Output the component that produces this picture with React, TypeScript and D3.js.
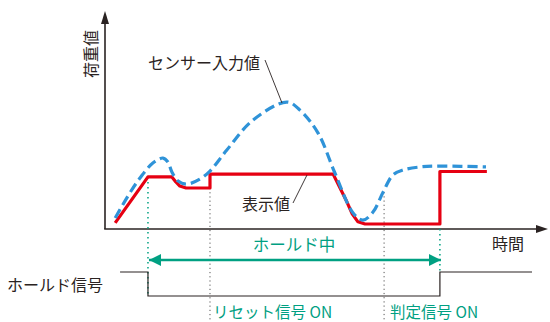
import React from "react";
import * as d3 from "d3";

// time (0..100) vs load value (0..100)
const sensorT = [2.3, 5.6, 7.9, 10.8, 13.1, 14.2, 15.1, 16.5, 18.5, 21.4, 23.7, 27.5, 33.4, 41.1, 44.0, 48.1, 51.9, 56.0, 58.2, 60.5, 62.8, 65.0, 67.3, 71.1, 75.6, 86.0];
const sensorV = [5.1, 16.6, 23.5, 30.4, 32.7, 30.9, 26.3, 22.1, 20.7, 23.0, 26.7, 36.4, 50.2, 58.5, 54.8, 44.2, 25.8, 7.4, 4.1, 7.8, 17.1, 24.9, 27.2, 28.6, 29.0, 28.6];

const displayT = [2.3, 9.7, 15.1, 16.0, 16.9, 18.3, 23.7, 23.7, 51.5, 54.4, 55.8, 57.1, 58.7, 75.6, 75.6, 86.2];
const displayV = [2.8, 24.0, 24.0, 21.7, 19.8, 18.9, 18.9, 25.3, 25.3, 13.4, 7.0, 3.3, 2.3, 2.3, 26.5, 26.5];

const holdT = [3.4, 9.7, 9.7, 75.6, 75.6, 96.4];
const holdV = [1, 1, 0, 0, 1, 1];

const holdStart = 9.7;
const resetT = 23.7;
const judgeT = 63.0;
const holdEnd = 75.6;

const labels = {
  yAxis: "荷重値",
  xAxis: "時間",
  sensor: "センサー入力値",
  display: "表示値",
  holding: "ホールド中",
  holdSignal: "ホールド信号",
  reset: "リセット信号 ON",
  judge: "判定信号 ON",
};

const W = 550;
const H = 322;
const FONT = "'Noto Sans CJK JP', 'Noto Sans', sans-serif";
const TEAL = "#00a082";
const BLUE = "#2f93d8";
const RED = "#e60012";
const DARK = "#2a2322";

export default function App() {
  const x = d3.scaleLinear().domain([0, 100]).range([105, 548]);
  const y = d3.scaleLinear().domain([0, 100]).range([229, 12]);
  const ys = d3.scaleLinear().domain([0, 1]).range([296, 272]);

  const sensorLine = d3
    .line<number>()
    .x((_, i) => x(sensorT[i]))
    .y((d) => y(d))
    .curve(d3.curveCatmullRom.alpha(0.5));
  const displayLine = d3
    .line<number>()
    .x((_, i) => x(displayT[i]))
    .y((d) => y(d));
  const holdLine = d3
    .line<number>()
    .x((_, i) => x(holdT[i]))
    .y((d) => ys(d));

  return (
    <svg width={W} height={H} style={{ position: "absolute", left: 0, top: 0, background: "#fff" }}>
      <defs>
        <marker id="ah" viewBox="0 0 10 10" refX="10" refY="5" markerWidth="12" markerHeight="12" markerUnits="userSpaceOnUse" orient="auto-start-reverse">
          <path d="M0,0 L10,5 L0,10 z" fill={TEAL} />
        </marker>
      </defs>
      {/* axes */}
      <line x1={x(0)} y1={y(0)} x2={x(0)} y2={22} stroke={DARK} strokeWidth={1.6} />
      <path d={`M${x(0) - 4},${24} L${x(0)},${11} L${x(0) + 4},${24} z`} fill={DARK} />
      <line x1={x(0) - 0.8} y1={y(0)} x2={536} y2={y(0)} stroke={DARK} strokeWidth={1.6} />
      <path d={`M${536},${y(0) - 4} L${548},${y(0)} L${536},${y(0) + 4} z`} fill={DARK} />

      {/* vertical markers */}
      <line x1={x(holdStart)} y1={y(24)} x2={x(holdStart)} y2={ys(0)} stroke={TEAL} strokeWidth={1.5} strokeDasharray="1.5 3.5" />
      <line x1={x(holdEnd)} y1={y(0)} x2={x(holdEnd)} y2={ys(1)} stroke={TEAL} strokeWidth={1.5} strokeDasharray="1.5 3.5" />
      <line x1={x(resetT)} y1={y(18.9)} x2={x(resetT)} y2={H} stroke="#555" strokeWidth={1} strokeDasharray="1.2 3" />
      <line x1={x(judgeT)} y1={y(17)} x2={x(judgeT)} y2={H} stroke="#555" strokeWidth={1} strokeDasharray="1.2 3" />

      {/* series */}
      <path d={displayLine(displayV) || ""} fill="none" stroke={RED} strokeWidth={3.2} strokeLinejoin="round" />
      <path d={sensorLine(sensorV) || ""} fill="none" stroke={BLUE} strokeWidth={3.2} strokeDasharray="10 5" />

      {/* hold signal */}
      <path d={holdLine(holdV) || ""} fill="none" stroke={DARK} strokeWidth={1.2} />

      {/* hold arrow */}
      <line x1={x(holdStart) + 1} y1={260} x2={x(holdEnd) + 1} y2={260} stroke={TEAL} strokeWidth={2.4} markerStart="url(#ah)" markerEnd="url(#ah)" />

      {/* leader lines */}
      <line x1={265} y1={60} x2={282} y2={103} stroke={DARK} strokeWidth={0.9} />
      <line x1={293} y1={203} x2={307} y2={175} stroke={DARK} strokeWidth={0.9} />

      {/* texts */}
      <g fontFamily={FONT} fontSize={16} fill={DARK}>
        <text x={90} y={54} textAnchor="middle" dominantBaseline="central" transform="rotate(-90 90 54)">{labels.yAxis}</text>
        <text x={148} y={62} dominantBaseline="central">{labels.sensor}</text>
        <text x={242} y={203} dominantBaseline="central">{labels.display}</text>
        <text x={508} y={243} textAnchor="middle" dominantBaseline="central">{labels.xAxis}</text>
        <text x={7} y={284} dominantBaseline="central">{labels.holdSignal}</text>
        <text x={294} y={244} textAnchor="middle" dominantBaseline="central" fill={TEAL} fontSize={16.5}>{labels.holding}</text>
        <text x={213} y={311} dominantBaseline="central" fill={TEAL} fontSize={15.5}>{labels.reset}</text>
        <text x={390} y={311} dominantBaseline="central" fill={TEAL} fontSize={15.5}>{labels.judge}</text>
      </g>
    </svg>
  );
}
